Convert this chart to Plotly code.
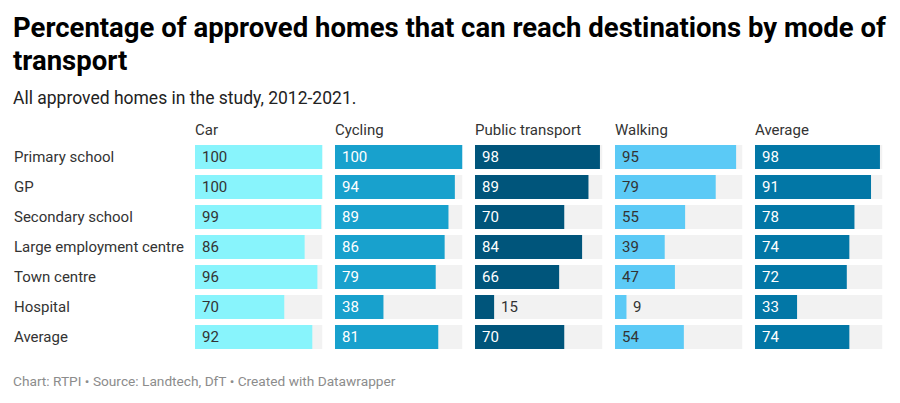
import plotly.graph_objects as go

W, H = 900, 403

destinations = ["Primary school", "GP", "Secondary school", "Large employment centre",
                "Town centre", "Hospital", "Average"]
modes = ["Car", "Cycling", "Public transport", "Walking", "Average"]
car = [100, 100, 99, 86, 96, 70, 92]
cycling = [100, 94, 89, 86, 79, 38, 81]
public_transport = [98, 89, 70, 84, 66, 15, 70]
walking = [95, 79, 55, 39, 47, 9, 54]
average = [98, 91, 78, 74, 72, 33, 74]
series = [car, cycling, public_transport, walking, average]

colors = ["#88f4fc", "#18a1cd", "#00557b", "#5bcaf6", "#0277a6"]
label_colors = ["#333333", "#ffffff", "#ffffff", "#333333", "#ffffff"]
bg_color = "#f2f2f2"
FONT = "Roboto"

fig = go.Figure()

panel_left = [195, 335, 475, 615, 755]
panel_w = 127.5
y_top_px, y_bot_px = 142, 352
PAD = 2  # annotation inner padding compensation

annotations = []
for i, (mode, vals) in enumerate(zip(modes, series)):
    xa = "x" if i == 0 else f"x{i+1}"
    fig.add_trace(go.Bar(y=destinations, x=[100] * len(destinations), orientation="h",
                         marker=dict(color=bg_color, line=dict(width=0)),
                         xaxis=xa, yaxis="y", hoverinfo="skip", showlegend=False))
    fig.add_trace(go.Bar(y=destinations, x=vals, orientation="h",
                         marker=dict(color=colors[i], line=dict(width=0)),
                         xaxis=xa, yaxis="y", showlegend=False, name=mode))
    key = "xaxis" if i == 0 else f"xaxis{i+1}"
    fig.layout[key] = dict(domain=[panel_left[i] / W, (panel_left[i] + panel_w) / W],
                           range=[0, 100], visible=False, fixedrange=True, anchor="y")
    # column header
    annotations.append(dict(text=mode, xref="paper", yref="paper",
                            x=(panel_left[i] - PAD) / W, y=1 - 130 / H, xanchor="left",
                            yanchor="middle", showarrow=False,
                            font=dict(family=FONT, size=15, color="#333333")))
    for d, v in zip(destinations, vals):
        inside = v >= 20
        annotations.append(dict(text=str(v), xref=xa, yref="y",
                                x=0 if inside else v, y=d, xshift=5, xanchor="left",
                                yanchor="middle", showarrow=False,
                                font=dict(family=FONT, size=15,
                                          color=label_colors[i] if inside else "#333333")))

for d in destinations:
    annotations.append(dict(text=d, xref="paper", yref="y", x=(14 - PAD) / W, y=d,
                            xanchor="left", yanchor="middle", showarrow=False,
                            font=dict(family=FONT, size=15, color="#333333")))

annotations += [
    dict(text="<b>Percentage of approved homes that can reach destinations by mode of</b>",
         xref="paper", yref="paper", x=(13 - PAD) / W, y=1 - 27.5 / H, xanchor="left",
         yanchor="middle", showarrow=False, font=dict(family=FONT, size=27.5, color="#000000")),
    dict(text="<b>transport</b>",
         xref="paper", yref="paper", x=(13 - PAD) / W, y=1 - 60.5 / H, xanchor="left",
         yanchor="middle", showarrow=False, font=dict(family=FONT, size=27.5, color="#000000")),
    dict(text="All approved homes in the study, 2012-2021.",
         xref="paper", yref="paper", x=(13 - PAD) / W, y=1 - 98 / H, xanchor="left",
         yanchor="middle", showarrow=False, font=dict(family=FONT, size=17.5, color="#222222")),
    dict(text="Chart: RTPI • Source: Landtech, DfT • Created with Datawrapper",
         xref="paper", yref="paper", x=(13 - PAD) / W, y=1 - 381 / H, xanchor="left",
         yanchor="middle", showarrow=False, font=dict(family=FONT, size=13.7, color="#8c8c8c")),
]

fig.update_layout(
    width=W, height=H, margin=dict(l=0, r=0, t=0, b=0),
    paper_bgcolor="white", plot_bgcolor="white",
    barmode="overlay", bargap=0.2,
    yaxis=dict(domain=[1 - y_bot_px / H, 1 - y_top_px / H], categoryorder="array",
               categoryarray=destinations, autorange="reversed", visible=False,
               fixedrange=True),
    annotations=annotations,
    font=dict(family=FONT),
)

fig.write_html("out.html", config={"displayModeBar": False},
               post_script="document.body.style.margin='0';")
